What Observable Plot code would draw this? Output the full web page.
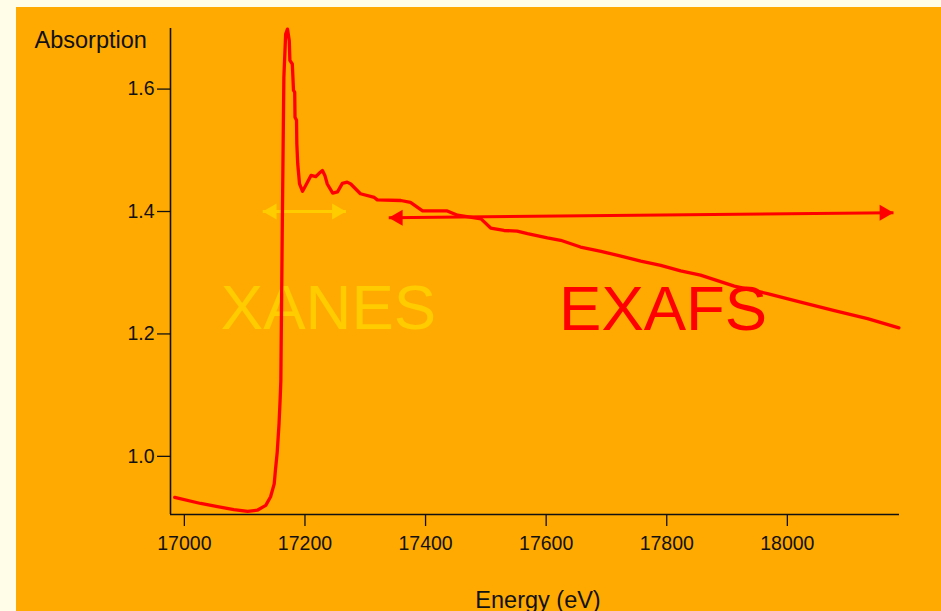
<!DOCTYPE html>
<html>
<head>
<meta charset="utf-8">
<script src="https://cdn.jsdelivr.net/npm/d3@7"></script>
<script src="https://cdn.jsdelivr.net/npm/@observablehq/plot@0.6"></script>
<style>
  html, body { margin: 0; padding: 0; background: #FFFDE8; }
  body { width: 941px; height: 611px; position: relative; overflow: hidden; font-family: "Liberation Sans", Arial, sans-serif; }
  #bg { position: absolute; left: 16px; top: 7px; width: 925px; height: 604px; background: #FFAA00; }
  #chart { position: absolute; left: 0; top: 0; }
</style>
</head>
<body>
<div id="bg"></div>
<div id="chart"></div>
<script>
// Absorption spectrum (Energy in eV, absorption)
const energy = [16984, 17027, 17055, 17082, 17105, 17121, 17135, 17143, 17149, 17151, 17154, 17157, 17159, 17160,
  17162.5, 17165, 17168, 17171, 17174, 17175, 17179, 17181, 17183, 17183.5, 17186, 17186.5, 17188, 17191, 17196,
  17201, 17210, 17218, 17223, 17229, 17233, 17237, 17246, 17254, 17262, 17270, 17276, 17292, 17315, 17320, 17359,
  17375, 17395, 17436, 17453, 17492, 17508, 17530, 17552, 17569, 17602, 17624, 17657, 17691, 17724, 17757, 17790,
  17823, 17856, 17912, 17967, 18022, 18078, 18133, 18185];
const absorption = [0.933, 0.923, 0.918, 0.913, 0.910, 0.912, 0.920, 0.934, 0.955, 0.977, 1.007, 1.053, 1.097, 1.124,
  1.385, 1.619, 1.690, 1.698, 1.679, 1.647, 1.641, 1.598, 1.595, 1.554, 1.549, 1.511, 1.478, 1.445, 1.433,
  1.442, 1.459, 1.457, 1.462, 1.467, 1.459, 1.445, 1.430, 1.432, 1.446, 1.448, 1.445, 1.429, 1.423, 1.419, 1.418,
  1.415, 1.401, 1.401, 1.394, 1.388, 1.373, 1.369, 1.368, 1.364, 1.357, 1.353, 1.342, 1.335, 1.327, 1.319, 1.312,
  1.303, 1.296, 1.278, 1.266, 1.252, 1.238, 1.225, 1.210];

const xTicks = [17000, 17200, 17400, 17600, 17800, 18000];
const yTicks = [1.0, 1.2, 1.4, 1.6];

// Region annotations
const regionLabels = ["XANES", "EXAFS"];
const regionLabelX = [17239, 17794];
const regionLabelY = [1.208, 1.206];
const regionColors = ["#FFCC00", "#FF0000"];
// Double-headed arrows: [x1, y1, x2, y2]
const arrowXanes = [17130, 1.400, 17268, 1.400];
const arrowExafs = [17339, 1.390, 18176, 1.398];

const spectrum = energy.map((e, i) => ({e, a: absorption[i]}));
const labels = regionLabels.map((t, i) => ({t, x: regionLabelX[i], y: regionLabelY[i], c: regionColors[i]}));
const arrows = [
  {x1: arrowXanes[0], y1: arrowXanes[1], x2: arrowXanes[2], y2: arrowXanes[3], c: regionColors[0]},
  {x1: arrowExafs[0], y1: arrowExafs[1], x2: arrowExafs[2], y2: arrowExafs[3], c: regionColors[1]}
];
const headsL = arrows.map(a => ({x: a.x1, y: a.y1, c: a.c}));
const headsR = arrows.map(a => ({x: a.x2, y: a.y2, c: a.c}));

const xDomain = [16977, 18186];
const yDomain = [0.905, 1.699];

const chart = Plot.plot({
  width: 941,
  height: 611,
  marginLeft: 170,
  marginRight: 42,
  marginTop: 28,
  marginBottom: 97,
  style: {background: "transparent", fontFamily: "'Liberation Sans', Arial, sans-serif", color: "#111", overflow: "visible"},
  x: {domain: xDomain},
  y: {domain: yDomain},
  marks: [
    Plot.axisX({ticks: xTicks, tickFormat: d => String(d), tickSize: 12, tickPadding: 10, fontSize: 19.5, label: null, strokeWidth: 1.3}),
    Plot.axisY({ticks: yTicks, tickFormat: d => d.toFixed(1), tickSize: 13, tickPadding: 3, fontSize: 19.5, label: null, strokeWidth: 1.3}),
    Plot.ruleX([xDomain[0]], {stroke: "#111", strokeWidth: 1.6}),
    Plot.ruleY([yDomain[0]], {stroke: "#111", strokeWidth: 1.6}),
    Plot.text(labels, {x: "x", y: "y", text: "t", fill: "c", fontSize: 63.5, textAnchor: "middle", lineAnchor: "bottom"}),
    Plot.link(arrows, {x1: "x1", y1: "y1", x2: "x2", y2: "y2", stroke: "c", strokeWidth: 3}),
    Plot.dot(headsL, {x: "x", y: "y", fill: "c", symbol: "triangle", r: 5.94, rotate: -90, dx: 9.2}),
    Plot.dot(headsR, {x: "x", y: "y", fill: "c", symbol: "triangle", r: 5.94, rotate: 90, dx: -9.2}),
    Plot.line(spectrum, {x: "e", y: "a", stroke: "#FF0000", strokeWidth: 3.3, curve: "linear"}),
    Plot.text(["Absorption"], {text: d => d, frameAnchor: "top-left", textAnchor: "start", lineAnchor: "bottom", dx: -136, dy: 19, fontSize: 23.5, fill: "#111"}),
    Plot.text(["Energy (eV)"], {text: d => d, frameAnchor: "bottom", textAnchor: "middle", lineAnchor: "bottom", dx: 3, dy: 93, fontSize: 23.5, fill: "#111"})
  ]
});
document.getElementById("chart").appendChild(chart);
</script>
</body>
</html>
